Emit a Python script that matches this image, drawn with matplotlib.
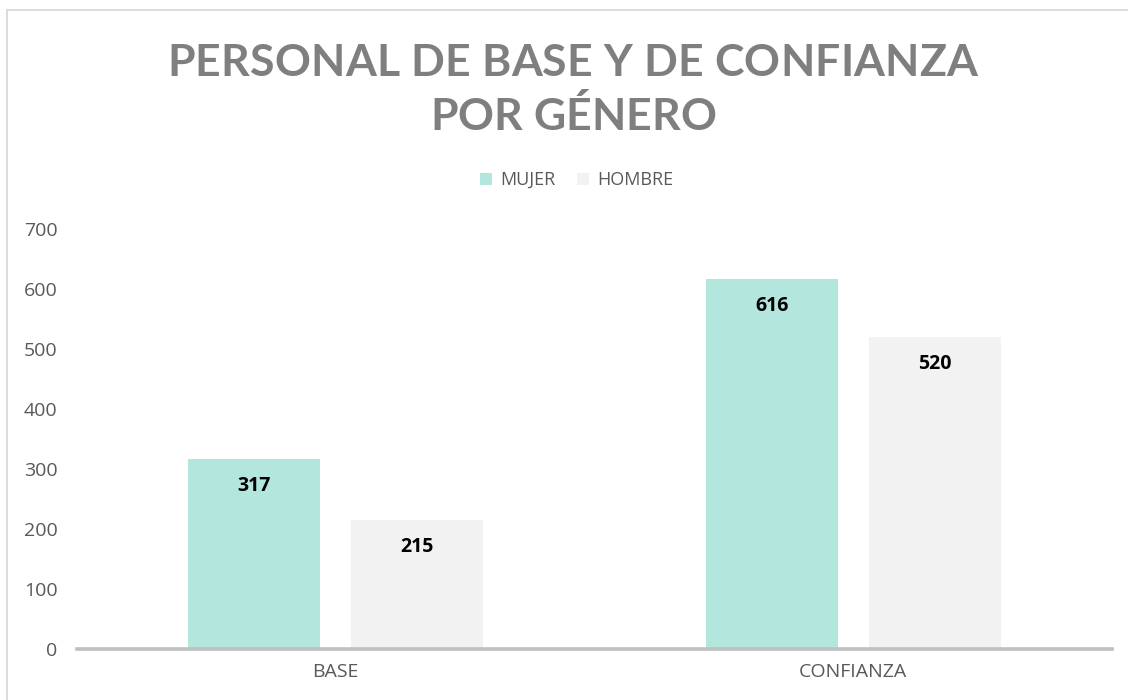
import matplotlib
matplotlib.use("Agg")
import matplotlib.pyplot as plt
from matplotlib.font_manager import FontProperties
from matplotlib.patches import Patch
from matplotlib.lines import Line2D
import numpy as np

# ---- data ----
categories = ["BASE", "CONFIANZA"]
series_names = ["MUJER", "HOMBRE"]
mujer = [317, 616]
hombre = [215, 520]
title_lines = ["PERSONAL DE BASE Y DE CONFIANZA", "POR GÉNERO"]
yticks = [0, 100, 200, 300, 400, 500, 600, 700]

# ---- style ----
W, H = 1128, 700
C_MUJER = "#B3E6DD"
C_HOMBRE = "#F2F2F2"
C_TEXT = "#595959"
C_TITLE = "#7F7F7F"
plt.rcParams["font.family"] = ["Open Sans", "DejaVu Sans"]

fig = plt.figure(figsize=(W / 100, H / 100), dpi=100)
ax = fig.add_axes([77 / W, (H - 649) / H, (1112 - 77) / W, 420 / H])

x = np.arange(len(categories))
bw = 0.255
off = 0.1575
b1 = ax.bar(x - off, mujer, bw, color=C_MUJER, label=series_names[0], zorder=2)
b2 = ax.bar(x + off, hombre, bw, color=C_HOMBRE, label=series_names[1], zorder=2)

for bars, vals in ((b1, mujer), (b2, hombre)):
    for rect, v in zip(bars, vals):
        ax.annotate(str(v), xy=(rect.get_x() + rect.get_width() / 2, v),
                    xytext=(0, -27 * 0.72), textcoords="offset points",
                    ha="center", va="center", fontsize=14, fontweight="bold",
                    color="black")

ax.set_xlim(-0.5, 1.5)
ax.set_ylim(0, 700)
ax.set_yticks(yticks)
ax.set_xticks(x)
ax.set_xticklabels(categories)
for s in ["top", "right", "left"]:
    ax.spines[s].set_visible(False)
ax.spines["bottom"].set_color("#BFBFBF")
ax.spines["bottom"].set_linewidth(2.6)
ax.spines["bottom"].set_zorder(3)
ax.tick_params(axis="y", length=0, pad=14, labelsize=14, labelcolor=C_TEXT)
ax.tick_params(axis="x", length=0, pad=10, labelsize=14, labelcolor=C_TEXT)

# ---- legend ----
handles = [Patch(facecolor=C_MUJER, edgecolor="none", label=series_names[0]),
           Patch(facecolor=C_HOMBRE, edgecolor="none", label=series_names[1])]
fig.legend(handles=handles, loc="center", bbox_to_anchor=(577 / W, 1 - 180 / H),
           ncol=2, frameon=False, fontsize=13, handlelength=0.67, handleheight=0.67,
           handletextpad=0.45, columnspacing=1.2, labelcolor=C_TEXT,
           borderpad=0, borderaxespad=0)

# ---- title with letter spacing ----
fig.canvas.draw()
renderer = fig.canvas.get_renderer()
fp = FontProperties(family=["Lato", "DejaVu Sans"], weight="bold", size=32)


def tw(s):
    return renderer.get_text_width_height_descent(s, fp, ismath=False)[0]


def spaced(text, xc, ybase, target):
    base = tw("HH")
    advs = [tw("H" + c + "H") - base for c in text]
    sp = (target - sum(advs)) / (len(text) - 1)
    xs = xc - target / 2
    for c, a in zip(text, advs):
        fig.text(xs / W, 1 - ybase / H, c, fontproperties=fp, color=C_TITLE,
                 ha="left", va="baseline")
        xs += a + sp


spaced(title_lines[0], 572, 76, 810)
spaced(title_lines[1], 573, 130, 286)

# ---- chart area border (top-left visible) ----
fig.add_artist(Line2D([7 / W, 1], [1 - 9.5 / H, 1 - 9.5 / H], transform=fig.transFigure,
                      color="#D9D9D9", lw=1.3))
fig.add_artist(Line2D([7 / W, 7 / W], [0, 1 - 9.5 / H], transform=fig.transFigure,
                      color="#D9D9D9", lw=1.3))

fig.savefig("out.png", dpi=100)
